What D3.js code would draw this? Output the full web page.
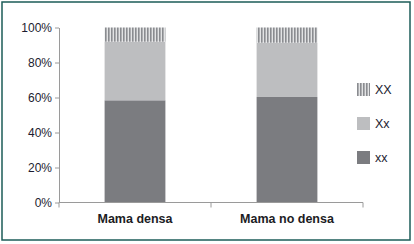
<!DOCTYPE html>
<html>
<head>
<meta charset="utf-8">
<script src="https://cdn.jsdelivr.net/npm/d3@7"></script>
<style>
  html, body { margin: 0; padding: 0; background: #fff; }
  svg { display: block; font-family: "Liberation Sans", Arial, sans-serif; }
</style>
</head>
<body>
<svg id="chart" width="414" height="244"></svg>
<script>
const categories = ["Mama densa", "Mama no densa"];
const seriesNames = ["xx", "Xx", "XX"];
const xxValues = [58.4, 60.3];
const XxLightValues = [33.5, 31.0];
const XXValues = [8.1, 8.7];
const yTicks = [0, 20, 40, 60, 80, 100];

const svg = d3.select("#chart");
const width = 414, height = 244;
const margin = { left: 59, right: 51, top: 27.5, bottom: 41.5 };

// outer frame
svg.append("rect")
  .attr("x", 2).attr("y", 2)
  .attr("width", 408).attr("height", 238)
  .attr("fill", "none")
  .attr("stroke", "#1d5c58")
  .attr("stroke-width", 1.5);

const defs = svg.append("defs");
const pat = defs.append("pattern")
  .attr("id", "hatch")
  .attr("patternUnits", "userSpaceOnUse")
  .attr("width", 3).attr("height", 4);
pat.append("rect").attr("width", 3).attr("height", 4).attr("fill", "#e2e3e4");
pat.append("rect").attr("x", 0).attr("width", 1.6).attr("height", 4).attr("fill", "#8a8c90");

const x = d3.scaleBand()
  .domain(categories)
  .range([margin.left, width - margin.right])
  .paddingInner(0.6).paddingOuter(0.3);

const y = d3.scaleLinear()
  .domain([0, 100])
  .range([height - margin.bottom, margin.top]);

const rows = categories.map((c, i) => ({ cat: c, xx: xxValues[i], Xx: XxLightValues[i], XX: XXValues[i] }));
const stack = d3.stack().keys(seriesNames)(rows);
const fills = { xx: "#7b7c80", Xx: "#bdbec0", XX: "url(#hatch)" };

svg.append("g").selectAll("g")
  .data(stack)
  .join("g")
  .attr("fill", d => fills[d.key])
  .selectAll("rect")
  .data(d => d)
  .join("rect")
  .attr("x", d => x(d.data.cat))
  .attr("width", x.bandwidth())
  .attr("y", d => y(d[1]))
  .attr("height", d => y(d[0]) - y(d[1]));

// y axis
const yAxis = svg.append("g")
  .attr("transform", `translate(${margin.left},0)`)
  .call(d3.axisLeft(y).tickValues(yTicks).tickFormat(d => d + "%").tickSize(4).tickPadding(3).tickSizeOuter(0));
yAxis.select(".domain").attr("stroke", "#9a9a9a");
yAxis.selectAll(".tick line").attr("stroke", "#9a9a9a");
yAxis.selectAll("text").attr("fill", "#1c1c30").style("font-size", "12px");

// x axis with boundary ticks
const xAxisG = svg.append("g")
  .attr("transform", `translate(0,${y(0)})`);
xAxisG.append("line")
  .attr("x1", margin.left).attr("x2", width - margin.right)
  .attr("stroke", "#9a9a9a");
const bounds = [margin.left, (x(categories[0]) + x.bandwidth() + x(categories[1])) / 2, width - margin.right];
xAxisG.selectAll("line.tk")
  .data(bounds)
  .join("line")
  .attr("class", "tk")
  .attr("x1", d => d).attr("x2", d => d)
  .attr("y1", 0).attr("y2", 5)
  .attr("stroke", "#9a9a9a");
xAxisG.selectAll("text")
  .data(categories)
  .join("text")
  .attr("x", d => x(d) + x.bandwidth() / 2)
  .attr("y", 20)
  .attr("text-anchor", "middle")
  .attr("fill", "#1c1c24")
  .style("font-size", "12.5px")
  .style("font-weight", "bold")
  .text(d => d);

// legend
const legendItems = ["XX", "Xx", "xx"];
const legend = svg.append("g").attr("transform", "translate(357,83)");
const li = legend.selectAll("g")
  .data(legendItems)
  .join("g")
  .attr("transform", (d, i) => `translate(0,${i * 34})`);
li.append("rect")
  .attr("width", 13).attr("height", 13)
  .attr("fill", d => fills[d]);
li.append("text")
  .attr("x", 18).attr("y", 11)
  .attr("fill", "#1c1c30")
  .style("font-size", "12.5px")
  .text(d => d);
</script>
</body>
</html>
